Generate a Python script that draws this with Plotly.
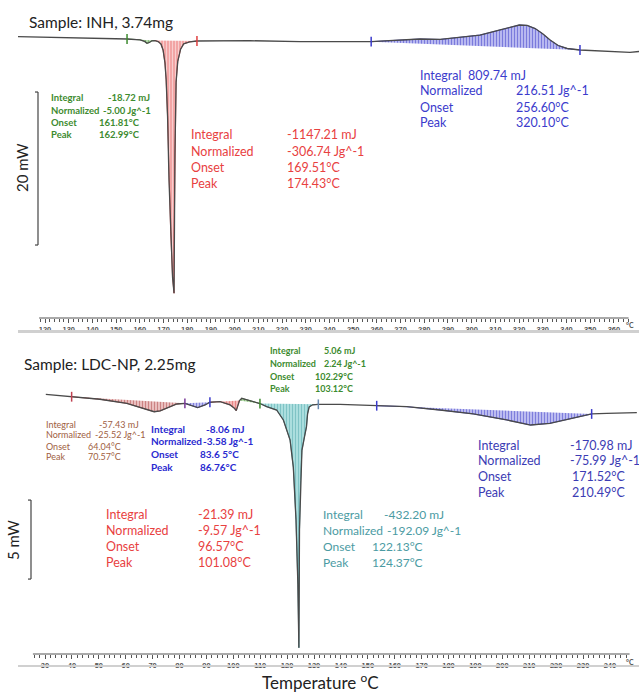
import plotly.graph_objects as go

W, H = 639, 693

# ---------------- INH, 3.74 mg : temperature (°C) and heat flow (mW) ----------------
inh_temp = [108.6, 126.3, 143.2, 154.6, 160.1, 162.0, 162.99, 164.0, 165.1, 166.4,
            167.7, 168.9, 169.8, 170.6, 171.1, 171.7, 172.3, 173.0, 173.8, 174.43,
            174.5, 174.8, 175.3, 176.0, 177.2, 178.5, 181.0, 184.1, 206.5, 227.6,
            257.6, 269.8, 278.2, 286.7, 295.1, 303.5, 312.0, 316.2, 320.1, 323.4,
            326.8, 330.1, 333.1, 336.5, 340.3, 345.7, 354.2, 362.6, 366.8, 370.6]
inh_flow = [0.43, 0.33, 0.20, 0.13, 0.03, -0.18, -0.43, -0.33, -0.10, -0.07,
            -0.20, -0.52, -1.31, -3.0, -5.2, -10.0, -18.3, -25.0, -31.0, -33.1,
            -25.0, -15.0, -5.5, -2.8, -1.2, -0.5, -0.25, -0.13, -0.09, -0.20,
            -0.22, 0.0, 0.13, 0.07, 0.33, 0.65, 1.31, 1.70, 1.96, 1.90,
            1.50, 0.78, 0.0, -0.72, -1.11, -1.31, -1.44, -1.50, -1.63, -1.50]

# ---------------- LDC-NP, 2.25 mg ----------------
ldc_temp = [30.3, 39.9, 50.4, 60.4, 65.3, 67.9, 70.57, 72.8, 75.2, 79.0,
            82.0, 84.6, 86.76, 89.5, 91.3, 95.1, 98.8, 100.4, 101.08, 102.3,
            103.12, 104.5, 105.6, 109.9, 112.4, 116.1, 118.6, 121.1, 122.3, 123.3,
            124.0, 124.37, 124.6, 125.0, 125.5, 126.5, 127.2, 127.6, 128.2, 129.5,
            131.6, 139.7, 153.3, 164.5, 176.8, 189.2, 201.6, 210.49, 217.7, 223.9,
            228.9, 233.2, 238.8, 250.0]
ldc_flow = [0.04, -0.11, -0.27, -0.53, -0.80, -0.95, -1.06, -1.01, -0.84, -0.57,
            -0.53, -0.70, -0.80, -0.63, -0.46, -0.42, -0.63, -0.84, -0.99, -0.35,
            -0.21, -0.28, -0.33, -0.54, -0.74, -0.95, -1.58, -2.85, -4.56, -7.9,
            -12.0, -16.0, -8.5, -5.4, -3.5, -2.6, -2.0, -1.2, -0.75, -0.62,
            -0.59, -0.59, -0.68, -0.74, -0.95, -1.20, -1.58, -1.90, -1.79, -1.54,
            -1.33, -1.20, -1.16, -1.12]

# integration windows: (start °C, end °C, background, hatch colour, edge colour)
inh_regions = [(154.6, 166.4, "#bfe0b5", "#3d8b2f", "#3d8b2f"),
               (166.4, 184.1, "#f19c9c", "#ffffff", "#c83030"),
               (257.6, 345.7, "#c4c4f4", "#3030c4", "#3030c4")]
ldc_regions = [(39.9, 82.0, "#efcaca", "#a83a3a", "#a83a3a"),
               (82.0, 91.3, "#cfcff6", "#3434c4", "#3434c4"),
               (91.3, 102.3, "#f6c3c3", "#d84848", "#d84848"),
               (102.3, 109.9, "#bfe0b5", "#3d8b2f", "#3d8b2f"),
               (109.9, 131.6, "#b4e2e2", "#4aa3a8", "#3a8a90"),
               (153.3, 233.2, "#c8c8f4", "#3434c4", "#3434c4")]

# integration limit markers: (°C, colour)
inh_limits = [(154.6, "#3d8b2f"), (184.1, "#e04040"), (257.6, "#3b3bcc"), (345.7, "#3b3bcc")]
ldc_limits = [(39.9, "#c04050"), (82.0, "#7a3a9a"), (91.3, "#3b3bcc"), (109.9, "#3d8b2f"),
              (131.6, "#6a8ab0"), (153.3, "#3b3bcc"), (233.2, "#3b3bcc")]

inh_ticks = list(range(120, 361, 10))
ldc_ticks = list(range(30, 241, 10))

fig = go.Figure()


def add_panel(temp, flow, regions, limits, xa, ya):
    for t0, t1, bg, fg, edge in regions:
        i0, i1 = temp.index(t0), temp.index(t1)
        fig.add_trace(go.Scatter(
            x=temp[i0:i1 + 1], y=flow[i0:i1 + 1], xaxis=xa, yaxis=ya,
            mode="lines", fill="toself", fillcolor=bg,
            fillpattern=dict(shape="|", bgcolor=bg, fgcolor=fg, size=3, solidity=0.45),
            line=dict(color=edge, width=0.8), hoverinfo="skip"))
    fig.add_trace(go.Scatter(x=temp, y=flow, xaxis=xa, yaxis=ya, mode="lines",
                             line=dict(color="#4a4a4a", width=1.3)))
    cols = [c for _, c in limits]
    fig.add_trace(go.Scatter(
        x=[t for t, _ in limits], y=[flow[temp.index(t)] for t, _ in limits],
        xaxis=xa, yaxis=ya, mode="markers",
        marker=dict(symbol="line-ns-open", size=7, color=cols,
                    line=dict(color=cols, width=1.5))))


add_panel(inh_temp, inh_flow, inh_regions, inh_limits, "x", "y")
add_panel(ldc_temp, ldc_flow, ldc_regions, ldc_limits, "x2", "y2")


def py(p):
    return 1 - p / H


def px(p):
    return p / W


tickfont = dict(size=7.5, color="#555", family="Liberation Sans")
axis_common = dict(showgrid=False, zeroline=False, showline=False, ticks="outside",
                   ticklen=4, tickwidth=1, tickcolor="#555", tickfont=tickfont,
                   tickmode="array")

fig.update_layout(
    width=W, height=H, margin=dict(l=0, r=0, t=0, b=0),
    paper_bgcolor="white", plot_bgcolor="white", showlegend=False,
    font=dict(family="Lato, Open Sans, sans-serif"),
    xaxis=dict(domain=[0, 1], range=[101.0, 370.6], anchor="y",
               tickvals=inh_ticks, ticktext=[f"<b>{t}</b>" for t in inh_ticks],
               minor=dict(tickmode="array", tickvals=list(range(118, 367, 2)),
                          ticks="outside", ticklen=2.5, tickcolor="#555"),
               **axis_common),
    yaxis=dict(domain=[py(318), 1], range=[-36.34, 5.229], visible=False),
    xaxis2=dict(domain=[0, 1], range=[13.27, 250.8], anchor="y2",
                tickvals=ldc_ticks, ticktext=[f"<b>{t}</b>" for t in ldc_ticks],
                minor=dict(tickmode="array", tickvals=list(range(26, 248, 2)),
                           ticks="outside", ticklen=2.5, tickcolor="#555"),
                **axis_common),
    yaxis2=dict(domain=[py(654), py(335)], range=[-16.392, 3.797], visible=False),
)

shapes = [
    # axis rulers
    dict(type="line", xref="x", yref="paper", x0=117.5, x1=366.2, y0=py(318), y1=py(318),
         line=dict(color="#555", width=1)),
    dict(type="line", xref="x2", yref="paper", x0=25.5, x1=247.3, y0=py(654), y1=py(654),
         line=dict(color="#555", width=1)),
    # panel separators
    dict(type="line", xref="paper", yref="paper", x0=px(18), x1=1, y0=py(331.5), y1=py(331.5),
         line=dict(color="#d0d0d0", width=3)),
    dict(type="line", xref="paper", yref="paper", x0=px(18), x1=1, y0=py(666), y1=py(666),
         line=dict(color="#d0d0d0", width=2)),
]
# scale bars: 20 mW (upper) and 5 mW (lower)
for xv, yref, top, span in [(38, "y", -6.8, 20), (31, "y2", -6.65, 5)]:
    shapes.append(dict(type="line", xref="paper", yref=yref, x0=px(xv), x1=px(xv),
                       y0=top, y1=top - span, line=dict(color="#444", width=1.2)))
    for yy in (top, top - span):
        shapes.append(dict(type="line", xref="paper", yref=yref, x0=px(xv - 3), x1=px(xv),
                           y0=yy, y1=yy, line=dict(color="#444", width=1.2)))
fig.update_layout(shapes=shapes)

ann = []


def text(x, y, s, size, color, bold=False, **kw):
    ann.append(dict(x=px(x), y=py(y), xref="paper", yref="paper", text=f"<b>{s}</b>" if bold else s,
                    showarrow=False, xanchor=kw.get("xanchor", "left"), yanchor="middle",
                    font=dict(size=size, color=color), textangle=kw.get("angle", 0)))


labels = ["Integral", "Normalized", "Onset", "Peak"]
blocks = [
    # (label x, line ys, value xs, values, size, colour, bold)
    (49, [97, 110, 123, 135], [106, 101, 97, 97],
     ["-18.72 mJ", "-5.00 Jg^-1", "161.81°C", "162.99°C"], 9.5, "#3d8b2f", True),
    (189, [135, 151, 167, 183], [285, 285, 285, 285],
     ["-1147.21 mJ", "-306.74 Jg^-1", "169.51°C", "174.43°C"], 12.5, "#e8413f", False),
    (418, [75, 91, 107, 123], [466, 514, 514, 514],
     ["809.74 mJ", "216.51 Jg^-1", "256.60°C", "320.10°C"], 12.5, "#3b3bcc", False),
    (268, [350, 363, 376, 388], [322, 322, 313, 313],
     ["5.06 mJ", "2.24 Jg^-1", "102.29°C", "103.12°C"], 9, "#3d8b2f", True),
    (44, [424, 435, 446, 457], [97, 93, 86, 86],
     ["-57.43 mJ", "-25.52 Jg^-1", "64.04°C", "70.57°C"], 9, "#a0603f", False),
    (149, [429, 441, 454, 467], [204, 201, 198, 198],
     ["-8.06 mJ", "-3.58 Jg^-1", "83.6 5°C", "86.76°C"], 10, "#2a2ad0", True),
    (476, [445, 460, 476, 492], [568, 568, 570, 570],
     ["-170.98 mJ", "-75.99 Jg^-1", "171.52°C", "210.49°C"], 12.5, "#3c3cb4", False),
    (104, [514, 530, 546, 562], [196, 196, 196, 196],
     ["-21.39 mJ", "-9.57 Jg^-1", "96.57°C", "101.08°C"], 12.5, "#e8413f", False),
    (321, [514, 530, 546, 562], [382, 385, 370, 370],
     ["-432.20 mJ", "-192.09 Jg^-1", "122.13°C", "124.37°C"], 12, "#4b9ba3", False),
]
for lx, ys, vxs, vals, size, color, bold in blocks:
    for lab, y, vx, v in zip(labels, ys, vxs, vals):
        text(lx, y, lab, size, color, bold)
        text(vx, y, v, size, color, bold)

text(27, 22, "Sample: INH, 3.74mg", 15.5, "#222")
text(22, 364, "Sample: LDC-NP, 2.25mg", 15.5, "#222")
text(22, 168, "20 mW", 15, "#222", xanchor="center", angle=-90)
text(13, 540, "5 mW", 15, "#222", xanchor="center", angle=-90)
text(320, 681, "Temperature <sup>o</sup>C", 17, "#222", xanchor="center")
text(630, 325, "<b>°C</b>", 7, "#555", xanchor="center")
text(630, 662, "<b>°C</b>", 7, "#555", xanchor="center")
fig.update_layout(annotations=ann)

fig.write_html("out.html")
